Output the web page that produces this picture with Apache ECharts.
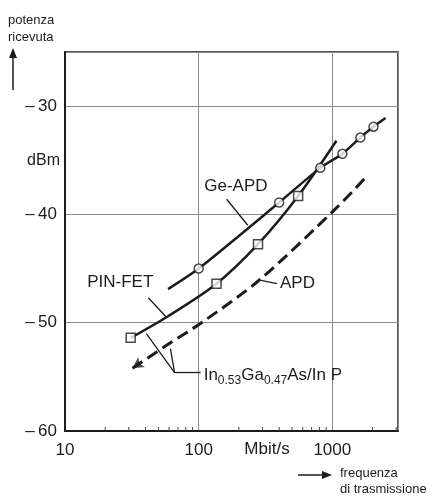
<!DOCTYPE html>
<html>
<head>
<meta charset="utf-8">
<script src="https://cdn.jsdelivr.net/npm/echarts@6/dist/echarts.min.js"></script>
<style>
  html, body { margin: 0; padding: 0; background: #fff; }
  #chart { width: 448px; height: 498px; }
</style>
</head>
<body>
<div id="chart"></div>
<script>
// curve data: [Mbit/s, dBm]
const geApdLine = [[59, -46.9], [100, -45.0], [400, -38.9], [813, -35.7], [1189, -34.4], [1622, -32.9], [2032, -31.9], [2500, -31.1]];
const geApdMarks = [[100, -45.0], [400, -38.9], [813, -35.7], [1189, -34.4], [1622, -32.9], [2032, -31.9]];
const pinFetLine = [[31, -51.4], [59, -49.4], [136, -46.4], [278, -42.75], [555, -38.3], [1073, -33.2]];
const pinFetMarks = [[31, -51.4], [136, -46.4], [278, -42.75], [555, -38.3]];
const apdLine = [[32, -54.2], [59, -52.0], [105, -50.0], [282, -46.1], [1073, -39.4], [1803, -36.5]];
const xTickLabels = [10, 100, 1000];
const xMinorTicks = [20, 30, 40, 50, 60, 70, 80, 90, 200, 300, 400, 500, 600, 700, 800, 900, 2000, 3000];
const yTickLabels = [-60, -50, -40, -30];

const FONT = 'Liberation Sans';
const INK = '#1c1c1c';

const chart = echarts.init(document.getElementById('chart'));

const option = {
  backgroundColor: '#fff',
  animation: false,
  grid: {
    left: 65, right: 50, top: 52, bottom: 67,
    show: true, borderColor: INK, borderWidth: 1.5
  },
  xAxis: {
    type: 'log', logBase: 10, min: 10, max: 3100,
    axisLine: { lineStyle: { color: INK, width: 2 } },
    axisTick: { show: false },
    splitLine: { show: true, lineStyle: { color: '#8a8a8a', width: 1 } },
    axisLabel: {
      showMaxLabel: false, margin: 11,
      fontFamily: FONT, fontSize: 17, color: INK,
      formatter: v => (xTickLabels.indexOf(v) >= 0 ? String(v) : '')
    }
  },
  yAxis: {
    type: 'value', min: -60, max: -25, interval: 10,
    axisLine: { show: true, lineStyle: { color: INK, width: 2 } },
    axisTick: { show: false },
    splitLine: { show: true, lineStyle: { color: '#8a8a8a', width: 1 } },
    axisLabel: {
      showMaxLabel: false, margin: 8,
      fontFamily: FONT, fontSize: 17, color: INK,
      formatter: v => (yTickLabels.indexOf(v) >= 0 ? '\u2013\u2009' + Math.abs(v) : '')
    }
  },
  series: [
    {
      // small inner ticks on the frequency axis
      type: 'custom', silent: true, z: 1,
      data: xMinorTicks.map(v => [v, -60]),
      renderItem: (params, api) => {
        const p = api.coord([api.value(0), api.value(1)]);
        return {
          type: 'line',
          shape: { x1: p[0], y1: p[1], x2: p[0], y2: p[1] - 4 },
          style: { stroke: '#444', lineWidth: 1 }
        };
      }
    },
    {
      name: 'Ge-APD', type: 'line', data: geApdLine, smooth: 0.25,
      showSymbol: false, lineStyle: { color: INK, width: 2.5 }, z: 3
    },
    {
      name: 'PIN-FET', type: 'line', data: pinFetLine, smooth: 0.3,
      showSymbol: false, lineStyle: { color: INK, width: 2.5 }, z: 3
    },
    {
      name: 'APD', type: 'line', data: apdLine, smooth: 0.3,
      showSymbol: false, lineStyle: { color: INK, width: 3, type: [12, 6] }, z: 3
    },
    {
      type: 'scatter', data: geApdMarks, symbol: 'circle', symbolSize: 9,
      itemStyle: { color: '#fff', borderColor: INK, borderWidth: 1.5 }, z: 5
    },
    {
      type: 'scatter', data: pinFetMarks, symbol: 'rect', symbolSize: 9,
      itemStyle: { color: '#fff', borderColor: INK, borderWidth: 1.5 }, z: 5
    },
    {
      // arrow head at the start of the dashed curve
      type: 'scatter', data: [apdLine[0]], symbol: 'arrow', symbolSize: [9, 11],
      symbolRotate: 124, itemStyle: { color: INK }, z: 5
    }
  ]
};
chart.setOption(option);

// annotations placed in data coordinates
const px = (x, y) => chart.convertToPixel({ gridIndex: 0 }, [x, y]);
function seg(a, b, w) {
  const p = px(a[0], a[1]), q = px(b[0], b[1]);
  return { type: 'line', z: 10, shape: { x1: p[0], y1: p[1], x2: q[0], y2: q[1] }, style: { stroke: INK, lineWidth: w || 1.3 } };
}
function label(at, text, align, size) {
  const p = px(at[0], at[1]);
  return {
    type: 'text', z: 10, x: p[0], y: p[1],
    style: { text: text, fill: INK, font: (size || 17) + 'px ' + FONT, align: align || 'center', verticalAlign: 'middle' }
  };
}

const fp = px(109, -54.9);
chart.setOption({
  graphic: [
    label([190, -37.4], 'Ge-APD'),
    seg([162, -38.6], [233, -41.0]),
    label([25.9, -46.3], 'PIN-FET'),
    seg([42, -47.7], [57.4, -49.5]),
    label([406, -46.4], 'APD', 'left'),
    seg([292, -46.1], [386, -46.4]),
    seg([40.6, -51.0], [66, -54.6]),
    seg([61.5, -52.4], [66, -54.6]),
    seg([66, -54.6], [103.5, -54.6]),
    {
      type: 'text', z: 10, x: fp[0], y: fp[1],
      style: {
        text: '{a|In}{s|0.53}{a|Ga}{s|0.47}{a|As/In P}',
        align: 'left', verticalAlign: 'middle',
        rich: {
          a: { fontFamily: FONT, fontSize: 17, fill: INK, color: INK },
          s: { fontFamily: FONT, fontSize: 12, fill: INK, color: INK, padding: [9, 0, 0, 0] }
        }
      }
    },
    // axis captions
    { type: 'text', left: 8, top: 12, style: { text: 'potenza\nricevuta', fill: INK, font: '13px ' + FONT, lineHeight: 17 } },
    { type: 'line', shape: { x1: 13, y1: 90, x2: 13, y2: 55 }, style: { stroke: INK, lineWidth: 1.5 } },
    { type: 'polygon', shape: { points: [[13, 48], [9, 58], [17, 58]] }, style: { fill: INK } },
    { type: 'text', x: 60, y: 161, style: { text: 'dBm', fill: INK, font: '16px ' + FONT, align: 'right', verticalAlign: 'middle' } },
    { type: 'text', x: 267, y: 449, style: { text: 'Mbit/s', fill: INK, font: '17px ' + FONT, align: 'center', verticalAlign: 'middle' } },
    { type: 'line', shape: { x1: 298, y1: 475, x2: 324, y2: 475 }, style: { stroke: INK, lineWidth: 1.5 } },
    { type: 'polygon', shape: { points: [[332, 475], [322, 471], [322, 479]] }, style: { fill: INK } },
    { type: 'text', left: 340, top: 465, style: { text: 'frequenza\ndi trasmissione', fill: INK, font: '13px ' + FONT, lineHeight: 16 } }
  ]
});
</script>
</body>
</html>
